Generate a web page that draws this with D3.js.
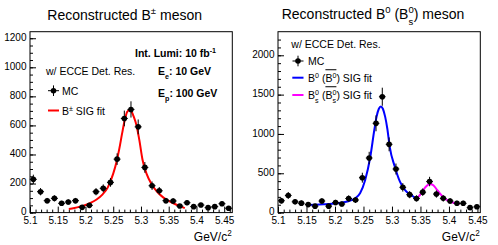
<!DOCTYPE html>
<meta charset="utf-8">
<head>
<style type='text/css'>
  body {
    margin: 0;
    background: #fff;
    font-family: 'Liberation Sans', Arial, sans-serif;
  }
  text {
    white-space: pre;
    fill: #000;
  }
  .tick text {
    font-size: 10px;
    font-family: 'Liberation Sans', Arial, sans-serif;
  }
  .axis .domain {
    display: none;
  }
</style>
</head>
<body>
<svg id="chart" width="498" height="245"></svg>
<script src="https://cdnjs.cloudflare.com/ajax/libs/d3/7.8.5/d3.min.js"></script>
<script>
// ---- data ----
// left panel: B+- candidates
var leftCenters = [5.106, 5.119, 5.131, 5.144, 5.157, 5.169, 5.182, 5.194, 5.207, 5.219,
                   5.232, 5.245, 5.257, 5.270, 5.282, 5.295, 5.307, 5.320, 5.333, 5.345,
                   5.358, 5.370, 5.383, 5.395, 5.408, 5.421, 5.433, 5.446, 5.458];
var leftCounts  = [229, 144, 82, 98, 64, 73, 82, 36, 50, 144,
                   167, 208, 368, 648, 710, 590, 311, 185, 150, 82,
                   80, 45, 68, 41, 52, 34, 41, 61, 30];
var leftErrors  = [32, 25, 19, 21, 17, 18, 19, 13, 15, 25,
                   27, 30, 40, 54, 56, 51, 37, 29, 26, 19,
                   19, 14, 17, 13, 15, 12, 13, 16, 12];
var leftFitX = [5.170, 5.180, 5.190, 5.200, 5.210, 5.220, 5.230, 5.240, 5.250, 5.256, 5.261, 5.266,
                5.271, 5.275, 5.279, 5.283, 5.287, 5.292, 5.297, 5.303, 5.310, 5.320, 5.330, 5.340,
                5.350, 5.360, 5.370, 5.379];
var leftFitY = [25, 32, 41, 52, 68, 90, 122, 172, 268, 350, 440, 545,
                640, 692, 706, 695, 660, 600, 500, 360, 268, 190, 140, 105,
                80, 61, 45, 31];

// right panel: B0 / Bs0 candidates
var rightCenters = [5.106, 5.118, 5.130, 5.141, 5.153, 5.165, 5.177, 5.189, 5.201, 5.212,
                    5.224, 5.236, 5.248, 5.260, 5.272, 5.283, 5.295, 5.307, 5.319, 5.331,
                    5.343, 5.354, 5.366, 5.378, 5.390, 5.402, 5.414, 5.425, 5.437, 5.449];
var rightCounts  = [151, 218, 137, 120, 102, 82, 147, 82, 128, 109,
                    179, 160, 444, 694, 1135, 1473, 868, 554, 321, 228,
                    180, 260, 395, 236, 181, 147, 118, 118, 63, 75];
var rightErrors  = [37, 44, 35, 33, 30, 27, 36, 27, 34, 31,
                    40, 38, 63, 79, 101, 115, 88, 70, 54, 45,
                    40, 48, 60, 46, 40, 36, 33, 33, 24, 26];
var blueFitX = [5.150, 5.165, 5.180, 5.195, 5.210, 5.225, 5.235, 5.244, 5.253, 5.262, 5.269, 5.273,
                5.277, 5.2805, 5.284, 5.288, 5.292, 5.296, 5.305, 5.314, 5.323, 5.334, 5.344];
var blueFitY = [97, 100, 105, 112, 125, 148, 180, 245, 414, 710, 1050, 1220,
                1320, 1350, 1320, 1220, 1060, 838, 583, 393, 287, 224, 168];
var pinkFitX = [5.341, 5.347, 5.353, 5.359, 5.364, 5.368, 5.373, 5.378, 5.384, 5.390, 5.396, 5.403, 5.410, 5.419];
var pinkFitY = [158, 205, 265, 325, 355, 360, 345, 300, 245, 195, 162, 138, 122, 112];

// ticks
var xMajor = [5.1, 5.15, 5.2, 5.25, 5.3, 5.35, 5.4, 5.45];
var xMinor = [5.11, 5.12, 5.13, 5.14, 5.16, 5.17, 5.18, 5.19, 5.21, 5.22, 5.23, 5.24, 5.26, 5.27, 5.28, 5.29,
              5.31, 5.32, 5.33, 5.34, 5.36, 5.37, 5.38, 5.39, 5.41, 5.42, 5.43, 5.44, 5.46];
var leftYMajor = [0, 200, 400, 600, 800, 1000, 1200];
var rightYMajor = [0, 500, 1000, 1500, 2000];

var svg = d3.select("#chart");
var plotBottom = 212.6, plotTop = 31.7;

// place text made of pieces (sup / sub / stacked / overline), like ROOT's TLatex
function rich(parent, x, y, fs, segs, anchor, bold) {
  var g = parent.append("g");
  var cx = 0, lastStart = 0, lastEnd = 0, olStart = 0;
  segs.forEach(function(s) {
    if (typeof s === "string") s = {t: s};
    var small = s.sup || s.sub;
    var size = small ? fs * 0.68 : fs;
    var dy = s.sup ? -fs * 0.38 : s.sub ? fs * 0.42 : 0;
    var start = s.stack ? lastStart : cx;
    var t = g.append("text")
        .attr("x", start)
        .attr("y", dy)
        .attr("font-size", size)
        .attr("font-weight", bold ? "bold" : null)
        .text(s.t);
    var w = t.node().getComputedTextLength();
    var end = start + w;
    if (s.olStart) olStart = start;
    if (s.stack) end = Math.max(end, lastEnd);
    if (s.olEnd) {
      g.append("line")
          .attr("x1", olStart).attr("x2", end)
          .attr("y1", -fs * 1.12).attr("y2", -fs * 1.12)
          .attr("stroke", "#000").attr("stroke-width", 1);
    }
    if (!s.stack) lastStart = start;
    lastEnd = end;
    cx = end;
  });
  var off = anchor === "middle" ? -cx / 2 : 0;
  g.attr("transform", "translate(" + (x + off) + "," + y + ")");
  return g;
}

function panel(cfg) {
  var x = d3.scaleLinear().domain(cfg.xDomain).range([cfg.left, cfg.right]);
  var y = d3.scaleLinear().domain([0, cfg.yMax]).range([plotBottom, plotTop]);
  var g = svg.append("g");

  // frame
  g.append("rect")
      .attr("x", cfg.left).attr("y", plotTop)
      .attr("width", cfg.right - cfg.left).attr("height", plotBottom - plotTop)
      .attr("fill", "none").attr("stroke", "#000").attr("stroke-width", 1);

  // x axis, ticks pointing inward
  g.append("g")
      .attr("class", "axis")
      .attr("transform", "translate(0," + plotBottom + ")")
      .call(d3.axisBottom(x).tickValues(xMajor).tickSizeInner(-6).tickSizeOuter(0).tickPadding(4)
            .tickFormat(function(d) { return String(+d.toFixed(2)); }));
  g.append("g")
      .attr("class", "axis")
      .attr("transform", "translate(0," + plotBottom + ")")
      .call(d3.axisBottom(x).tickValues(xMinor.filter(function(v) { return v < cfg.xDomain[1]; }))
            .tickSizeInner(-3).tickSizeOuter(0).tickFormat(""));

  // y axis
  var ya = g.append("g")
      .attr("class", "axis")
      .attr("transform", "translate(" + cfg.left + ",0)")
      .call(d3.axisLeft(y).tickValues(cfg.yMajor).tickSizeInner(-6).tickSizeOuter(0).tickPadding(3.5)
            .tickFormat(d3.format("d")));
  ya.selectAll("text").attr("dy", "0.22em");
  g.append("g")
      .attr("class", "axis")
      .attr("transform", "translate(" + cfg.left + ",0)")
      .call(d3.axisLeft(y).tickValues(d3.range(0, cfg.yMax, cfg.yMinorStep)).tickSizeInner(-3).tickSizeOuter(0).tickFormat(""));
  g.selectAll(".axis line").attr("stroke", "#000");

  // fit curves
  cfg.fits.forEach(function(f) {
    var pts = f.xs.map(function(v, i) { return [v, f.ys[i]]; });
    g.append("path")
        .datum(pts)
        .attr("fill", "none")
        .attr("stroke", f.color)
        .attr("stroke-width", 2)
        .attr("d", d3.line().curve(d3.curveMonotoneX)
            .x(function(d) { return x(d[0]); })
            .y(function(d) { return y(d[1]); }));
  });

  // MC points with error bars
  var pts = g.append("g").selectAll("g")
      .data(cfg.centers.map(function(c, i) { return {c: c, n: cfg.counts[i], e: cfg.errors[i]}; }))
    .enter().append("g");
  pts.append("line")
      .attr("x1", function(d) { return x(d.c); }).attr("x2", function(d) { return x(d.c); })
      .attr("y1", function(d) { return y(d.n - d.e); }).attr("y2", function(d) { return y(d.n + d.e); })
      .attr("stroke", "#000");
  pts.append("line")
      .attr("x1", function(d) { return x(d.c - cfg.halfBin); }).attr("x2", function(d) { return x(d.c + cfg.halfBin); })
      .attr("y1", function(d) { return y(d.n); }).attr("y2", function(d) { return y(d.n); })
      .attr("stroke", "#000");
  pts.append("circle")
      .attr("cx", function(d) { return x(d.c); })
      .attr("cy", function(d) { return y(d.n); })
      .attr("r", 2.8)
      .attr("fill", "#000");

  // x title
  rich(g, cfg.right - 38.5, 241, 12, ["GeV/c", {t: "2", sup: true}]);
  return g;
}

var gl = panel({
  left: 30, right: 232.3, xDomain: [5.1, 5.4646], yMax: 1245,
  yMajor: leftYMajor, yMinorStep: 50, halfBin: 0.0063,
  centers: leftCenters, counts: leftCounts, errors: leftErrors,
  fits: [{xs: leftFitX, ys: leftFitY, color: "#ff0000"}]
});
var gr = panel({
  left: 278, right: 480.3, xDomain: [5.1, 5.455], yMax: 2300,
  yMajor: rightYMajor, yMinorStep: 100, halfBin: 0.0059,
  centers: rightCenters, counts: rightCounts, errors: rightErrors,
  fits: [{xs: blueFitX, ys: blueFitY, color: "#0000ff"},
         {xs: pinkFitX, ys: pinkFitY, color: "#ff00ff"}]
});

// titles
rich(svg, 124.7, 19.5, 14, ["Reconstructed B", {t: "\u00b1", sup: true}, " meson"], "middle");
rich(svg, 373, 18.8, 14, ["Reconstructed B", {t: "0", sup: true}, " (B", {t: "0", sup: true},
      {t: "s", sub: true, stack: true}, ") meson"], "middle");

// left legend and labels
function mcMarker(g, cx, cy) {
  g.append("line").attr("x1", cx - 5.5).attr("x2", cx + 5.5).attr("y1", cy).attr("y2", cy).attr("stroke", "#000");
  g.append("line").attr("x1", cx).attr("x2", cx).attr("y1", cy - 5.3).attr("y2", cy + 5.3).attr("stroke", "#000");
  g.append("circle").attr("cx", cx).attr("cy", cy).attr("r", 2.8).attr("fill", "#000");
}
function fitKey(g, x1, x2, cy, color) {
  g.append("line").attr("x1", x1).attr("x2", x2).attr("y1", cy).attr("y2", cy)
      .attr("stroke", color).attr("stroke-width", 2);
}

rich(svg, 46, 75, 10.5, ["w/ ECCE Det. Res."]);
mcMarker(svg, 53.5, 90.7);
rich(svg, 62, 95, 10.5, ["MC"]);
fitKey(svg, 48, 59, 110.5, "#ff0000");
rich(svg, 62, 115, 10.5, ["B", {t: "\u00b1", sup: true}, " SIG fit"]);

rich(svg, 135, 57.3, 10.5, ["Int. Lumi: 10 fb", {t: "-1", sup: true}], null, true);
rich(svg, 158, 75, 10.5, ["E", {t: "e", sub: true}, ": 10 GeV"], null, true);
rich(svg, 158, 96.7, 10.5, ["E", {t: "p", sub: true}, ": 100 GeV"], null, true);

// right legend
rich(svg, 291.3, 48.3, 10.5, ["w/ ECCE Det. Res."]);
mcMarker(svg, 298, 61);
rich(svg, 308, 64.8, 10.5, ["MC"]);
fitKey(svg, 292.3, 303.5, 77.7, "#0000ff");
rich(svg, 308, 81.5, 10.5, ["B", {t: "0", sup: true}, " (", {t: "B", olStart: true}, {t: "0", sup: true, olEnd: true}, ") SIG fit"]);
fitKey(svg, 292.3, 303.5, 95, "#ff00ff");
rich(svg, 308, 98.5, 10.5, ["B", {t: "0", sup: true}, {t: "s", sub: true, stack: true}, " (",
      {t: "B", olStart: true}, {t: "0", sup: true}, {t: "s", sub: true, stack: true, olEnd: true}, ") SIG fit"]);
</script>
</body>
